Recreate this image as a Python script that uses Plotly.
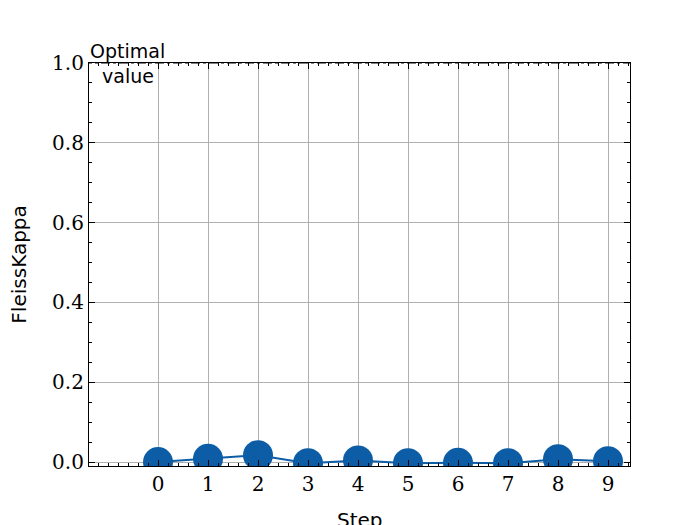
import plotly.graph_objects as go

steps = [0, 1, 2, 3, 4, 5, 6, 7, 8, 9]
kappa = [0.0, 0.008, 0.017, -0.003, 0.004, -0.003, -0.002, -0.003, 0.007, 0.002]
optimal_value = 1.0
y_ticks = [0.0, 0.2, 0.4, 0.6, 0.8, 1.0]
y_tick_labels = ["0.0", "0.2", "0.4", "0.6", "0.8", "1.0"]

fig = go.Figure()
fig.add_trace(go.Scatter(
    x=[-1.5, 9.6], y=[optimal_value, optimal_value], mode="lines",
    line=dict(color="black", width=1.2, dash="dashdot"), showlegend=False, hoverinfo="skip"))
fig.add_trace(go.Scatter(
    x=steps, y=kappa, mode="lines+markers",
    line=dict(color="#0C5DA5", width=2),
    marker=dict(color="#0C5DA5", size=30), showlegend=False, cliponaxis=True))

axis_common = dict(
    showline=True, linecolor="black", linewidth=1.2, mirror="ticks",
    ticks="inside", ticklen=6, tickwidth=1, tickcolor="black",
    showgrid=True, gridcolor="#b0b0b0", gridwidth=1, zeroline=False,
    tickfont=dict(family="DejaVu Serif", size=20, color="black"),
    automargin=False,
)
fig.update_xaxes(
    range=[-1.38, 9.44], tickmode="array", tickvals=steps,
    minor=dict(ticks="inside", ticklen=3, tickcolor="black", dtick=0.2, tick0=0, showgrid=False),
    **axis_common)
fig.update_yaxes(
    range=[-0.01, 1.0], tickmode="array", tickvals=y_ticks, ticktext=y_tick_labels,
    minor=dict(ticks="inside", ticklen=3, tickcolor="black", dtick=0.05, tick0=0, showgrid=False),
    **axis_common)

fig.add_annotation(x=0.5, y=-0.10, xref="paper", yref="paper", xanchor="center", yanchor="top",
                   text="Step", showarrow=False,
                   font=dict(family="DejaVu Sans", size=20, color="black"))
fig.add_annotation(x=-0.131, y=0.5, xref="paper", yref="paper", xanchor="center", yanchor="middle",
                   text="FleissKappa", showarrow=False, textangle=-90,
                   font=dict(family="DejaVu Sans", size=20, color="black"))
fig.add_annotation(x=0, y=1.0, xref="paper", yref="paper", xanchor="left", yanchor="middle",
                   text="Optimal<br>  value", showarrow=False, align="left",
                   font=dict(family="DejaVu Sans", size=19, color="black"), xshift=-1)

fig.update_layout(
    width=700, height=525, paper_bgcolor="white", plot_bgcolor="white",
    margin=dict(l=81, r=78, t=55, b=67, autoexpand=False), showlegend=False,
)
fig.write_html("out.html")
